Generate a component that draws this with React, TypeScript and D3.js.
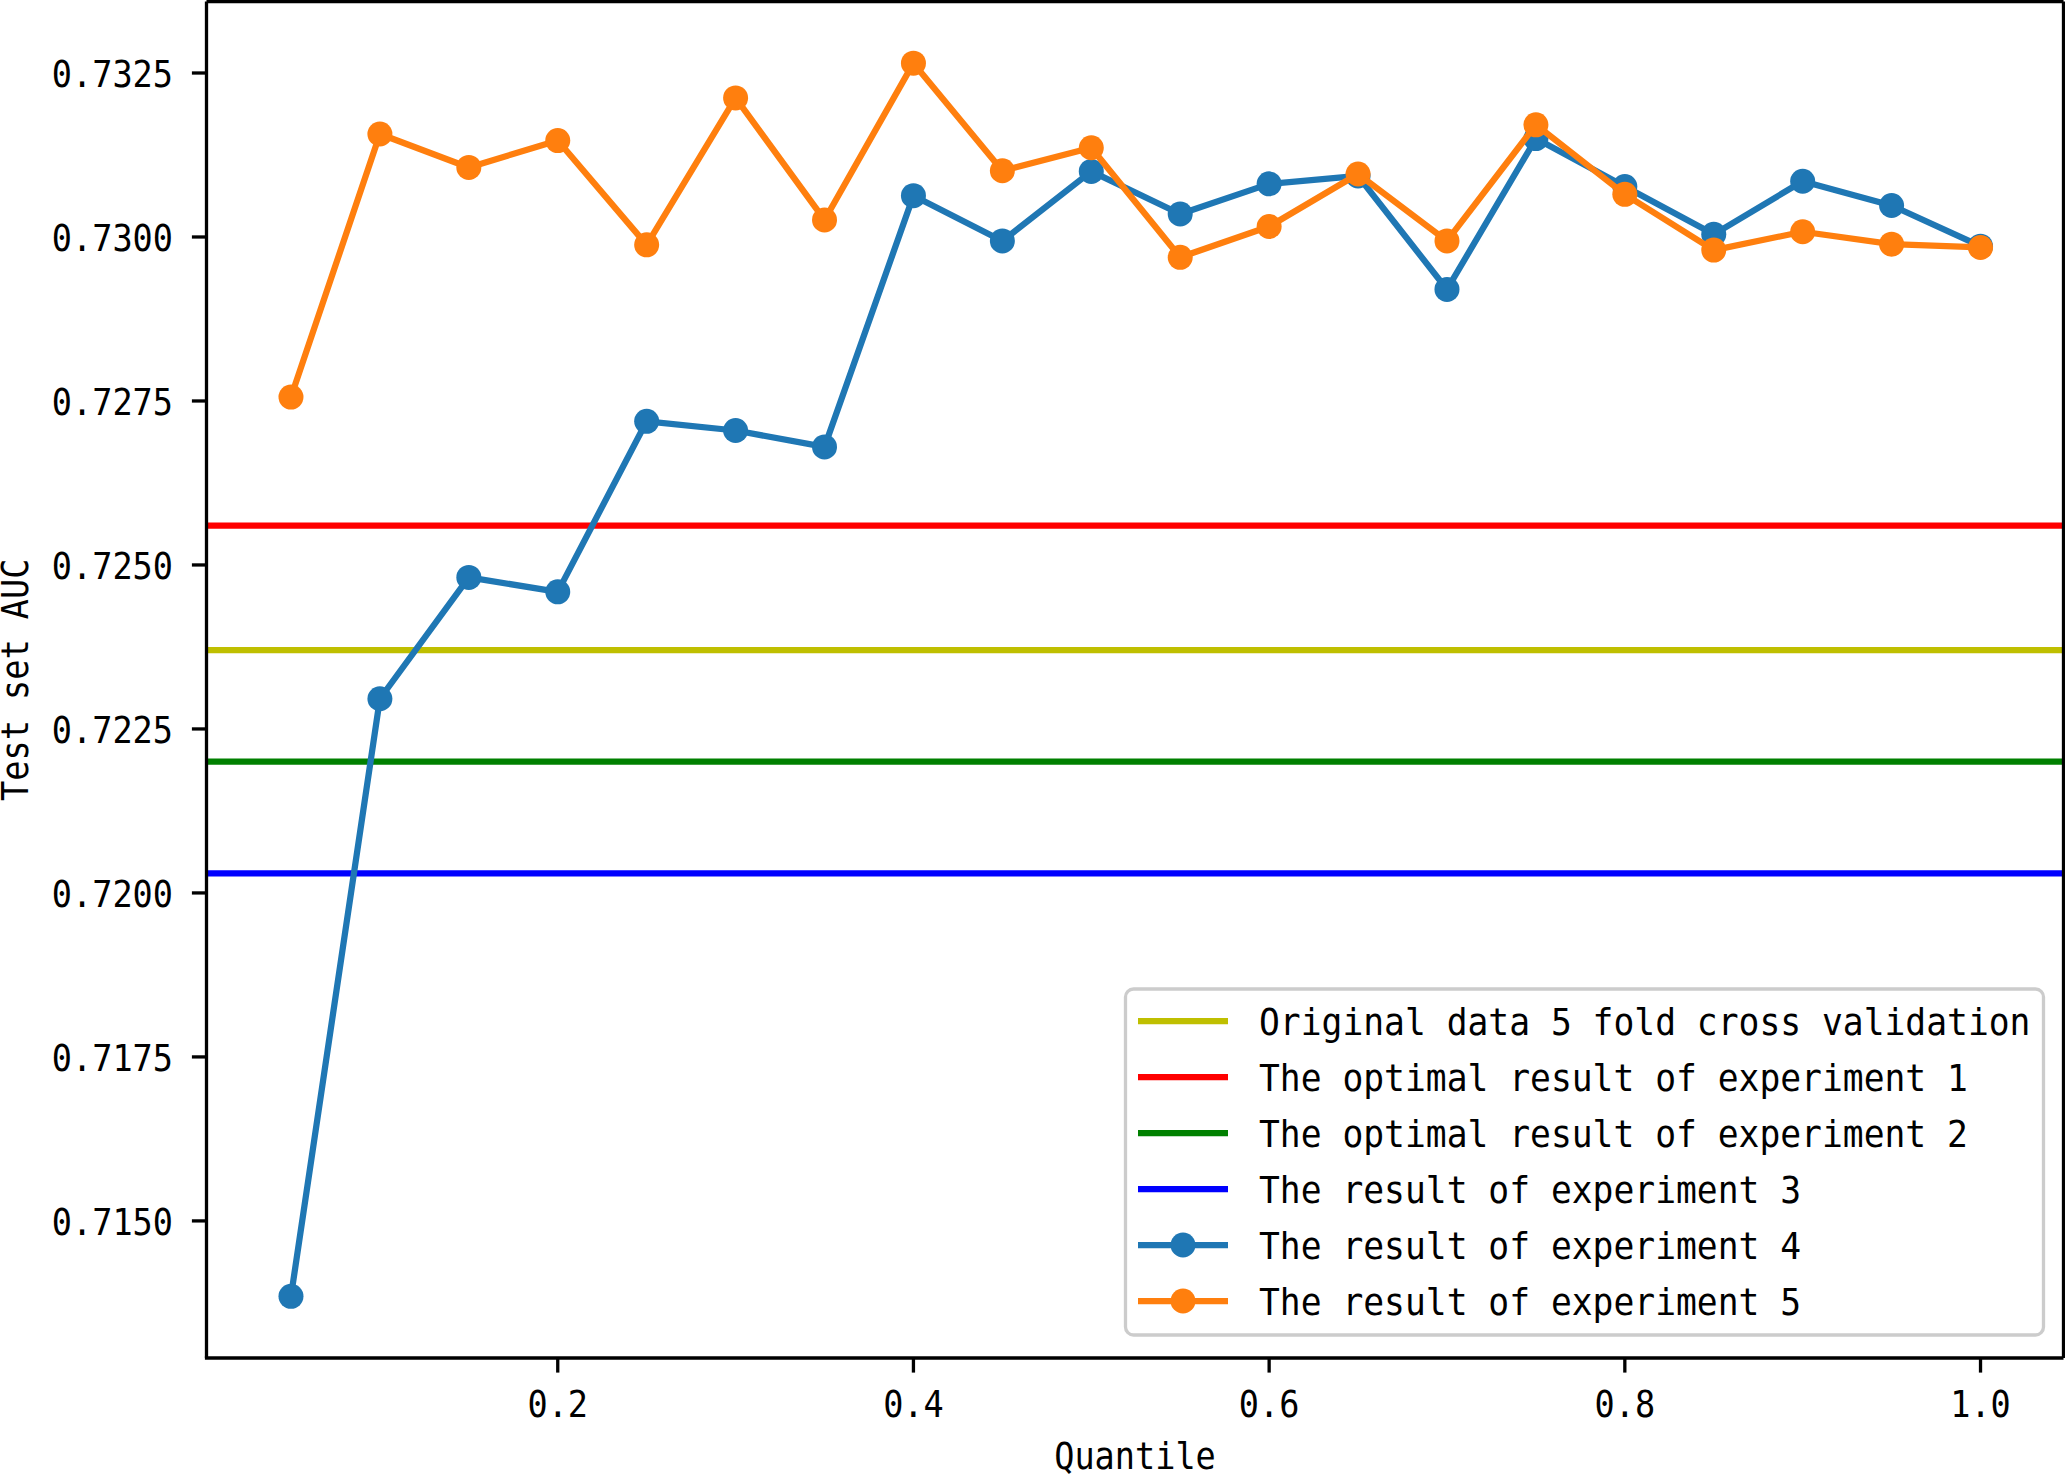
import * as d3 from "d3";
import * as React from "react";

// quantiles used on the x axis
const quantiles = [
  0.05, 0.1, 0.15, 0.2, 0.25, 0.3, 0.35, 0.4, 0.45, 0.5, 0.55, 0.6, 0.65, 0.7,
  0.75, 0.8, 0.85, 0.9, 0.95, 1.0,
];

// experiment 4 (blue) and experiment 5 (orange) test AUC
const exp4 = [
  0.71385, 0.72296, 0.72481, 0.72459, 0.72719, 0.72705, 0.7268, 0.73063,
  0.72994, 0.731, 0.73035, 0.73081, 0.73093, 0.7292, 0.7315, 0.73077, 0.73004,
  0.73085, 0.73048, 0.72986,
];
const exp5 = [
  0.72756, 0.73157, 0.73106, 0.73147, 0.72988, 0.73212, 0.73026, 0.73265,
  0.73101, 0.73136, 0.72969, 0.73016, 0.73096, 0.72994, 0.73171, 0.73065,
  0.7298, 0.73008, 0.72989, 0.72984,
];

// reference levels drawn as horizontal lines
const refNames = [
  "Original data 5 fold cross validation",
  "The optimal result of experiment 1",
  "The optimal result of experiment 2",
  "The result of experiment 3",
];
const refValues = [0.7237, 0.7256, 0.722, 0.7203];
const refColors = ["#bfbf00", "#ff0000", "#008000", "#0000ff"];

const seriesNames = ["The result of experiment 4", "The result of experiment 5"];
const seriesColors = ["#1f77b4", "#ff7f0e"];

const xTicks = [0.2, 0.4, 0.6, 0.8, 1.0];
const yTicks = [0.715, 0.7175, 0.72, 0.7225, 0.725, 0.7275, 0.73, 0.7325];

const W = 2065;
const H = 1474;
const left = 206.5;
const right = 2065;
const top = 1.5;
const bottom = 1358;
const font = '"DejaVu Sans Mono", monospace';
const fontSize = 38;
const lw = 6.25;

export default function App() {
  const ref = React.useRef<SVGSVGElement>(null);

  React.useEffect(() => {
    const svg = d3.select(ref.current);
    svg.selectAll("*").remove();

    const all = exp4.concat(exp5);
    const [ymin, ymax] = d3.extent(all) as [number, number];
    const ypad = (ymax - ymin) * 0.05;
    const xpad = (1.0 - 0.05) * 0.05;

    const x = d3
      .scaleLinear()
      .domain([0.05 - xpad, 1.0 + xpad])
      .range([left, right]);
    const y = d3
      .scaleLinear()
      .domain([ymin - ypad, ymax + ypad])
      .range([bottom, top]);

    const txt = (
      g: d3.Selection<any, any, any, any>,
      s: string,
      px: number,
      py: number,
      anchor: string,
      charW = 20.2
    ) =>
      g
        .append("text")
        .attr("x", px)
        .attr("y", py)
        .attr("text-anchor", anchor)
        .attr("font-family", font)
        .attr("font-size", fontSize)
        .attr("textLength", s.length * charW)
        .attr("lengthAdjust", "spacingAndGlyphs")
        .attr("fill", "#000")
        .text(s);

    const plot = svg.append("g");

    // reference horizontal lines
    refValues.forEach((v, i) => {
      plot
        .append("line")
        .attr("x1", left)
        .attr("x2", right)
        .attr("y1", y(v))
        .attr("y2", y(v))
        .attr("stroke", refColors[i])
        .attr("stroke-width", lw);
    });

    const line = d3
      .line<number>()
      .x((_d, i) => x(quantiles[i]))
      .y((d) => y(d));

    [exp4, exp5].forEach((vals, k) => {
      plot
        .append("path")
        .attr("d", line(vals))
        .attr("fill", "none")
        .attr("stroke", seriesColors[k])
        .attr("stroke-width", lw)
        .attr("stroke-linejoin", "round");
      plot
        .selectAll(null)
        .data(vals)
        .enter()
        .append("circle")
        .attr("cx", (_d, i) => x(quantiles[i]))
        .attr("cy", (d) => y(d))
        .attr("r", 12.5)
        .attr("fill", seriesColors[k]);
    });

    // spines
    const frame = svg.append("g").attr("stroke", "#000").attr("stroke-width", 3.3);
    frame.append("line").attr("x1", left).attr("x2", left).attr("y1", top).attr("y2", bottom);
    frame.append("line").attr("x1", left - 1.6).attr("x2", 2063.5).attr("y1", bottom).attr("y2", bottom);
    frame.append("line").attr("x1", left).attr("x2", 2063.5).attr("y1", top).attr("y2", top);
    frame.append("line").attr("x1", 2063.5).attr("x2", 2063.5).attr("y1", top).attr("y2", bottom);

    // y axis
    const ya = svg.append("g");
    yTicks.forEach((t) => {
      ya.append("line")
        .attr("x1", left - 14.6)
        .attr("x2", left)
        .attr("y1", y(t))
        .attr("y2", y(t))
        .attr("stroke", "#000")
        .attr("stroke-width", 3.3);
      txt(ya, d3.format(".4f")(t), 173, y(t) + 14, "end");
    });

    // x axis
    const xa = svg.append("g");
    xTicks.forEach((t) => {
      xa.append("line")
        .attr("x1", x(t))
        .attr("x2", x(t))
        .attr("y1", bottom)
        .attr("y2", bottom + 14.6)
        .attr("stroke", "#000")
        .attr("stroke-width", 3.3);
      txt(xa, d3.format(".1f")(t), x(t), 1417, "middle");
    });

    txt(svg, "Quantile", (left + 2063.5) / 2, 1469, "middle");
    txt(svg, "Test set AUC", 0, 0, "middle").attr(
      "transform",
      `translate(28, ${(top + bottom) / 2}) rotate(-90)`
    );

    // legend
    const lg = svg.append("g");
    lg.append("rect")
      .attr("x", 1125.5)
      .attr("y", 989)
      .attr("width", 918)
      .attr("height", 346)
      .attr("rx", 8)
      .attr("fill", "#fff")
      .attr("stroke", "#cccccc")
      .attr("stroke-width", 3.3);

    const legendItems = [
      ...refNames.map((n, i) => ({ name: n, color: refColors[i], marker: false })),
      ...seriesNames.map((n, i) => ({ name: n, color: seriesColors[i], marker: true })),
    ];
    legendItems.forEach((e, i) => {
      const cy = 1021 + i * 56;
      lg.append("line")
        .attr("x1", 1138)
        .attr("x2", 1228)
        .attr("y1", cy)
        .attr("y2", cy)
        .attr("stroke", e.color)
        .attr("stroke-width", lw);
      if (e.marker) {
        lg.append("circle").attr("cx", 1183).attr("cy", cy).attr("r", 12.5).attr("fill", e.color);
      }
      txt(lg, e.name, 1259, cy + 14, "start", 20.85);
    });
  }, []);

  return (
    <svg
      ref={ref}
      width={W}
      height={H}
      style={{ position: "absolute", left: 0, top: 0, background: "#fff" }}
    />
  );
}
